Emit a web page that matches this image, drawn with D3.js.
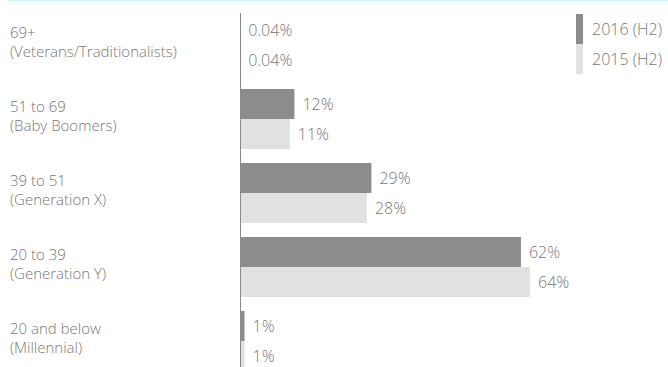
<!DOCTYPE html>
<html>
<head>
<meta charset="utf-8">
<script src="https://cdn.jsdelivr.net/npm/d3@7"></script>
<style>
  body { margin: 0; background: #fff; }
  svg { display: block; font-family: 'Open Sans', sans-serif; }
  text { fill: #777; font-size: 16px; font-weight: 300; }
  text.cat { font-size: 15px; }
</style>
</head>
<body>
<svg width="668" height="367"></svg>
<script>
const ageGroups = ['69+', '51 to 69', '39 to 51', '20 to 39', '20 and below'];
const generations = ['(Veterans/Traditionalists)', '(Baby Boomers)', '(Generation X)', '(Generation Y)', '(Millennial)'];
const seriesNames = ['2016 (H2)', '2015 (H2)'];
const values2016 = [0.04, 12, 29, 62, 1];
const values2015 = [0.04, 11, 28, 64, 1];
const valueLabels2016 = ['0.04%', '12%', '29%', '62%', '1%'];
const valueLabels2015 = ['0.04%', '11%', '28%', '64%', '1%'];

const colors = { '2016 (H2)': '#8c8c8c', '2015 (H2)': '#e1e1e1' };

const svg = d3.select('svg');

// thin cyan rule at the very top
svg.append('rect').attr('x', 8).attr('y', 0).attr('width', 660).attr('height', 1.5).attr('fill', '#cdf5f9');
svg.append('rect').attr('x', 8).attr('y', 1.5).attr('width', 660).attr('height', 4).attr('fill', '#f7fdfd');

const rows = ageGroups.map((g, i) => ({
  group: g,
  gen: generations[i],
  bars: [
    { series: seriesNames[0], value: values2016[i], label: valueLabels2016[i] },
    { series: seriesNames[1], value: values2015[i], label: valueLabels2015[i] }
  ]
}));

const x = d3.scaleLinear().domain([0, 64]).range([240, 530]);
const y = d3.scaleBand().domain(ageGroups).range([15, 371]).paddingInner(14 / 74).paddingOuter(0);
const ySub = d3.scaleBand().domain(seriesNames).range([0, y.bandwidth()]);

const groups = svg.selectAll('.group')
  .data(rows)
  .enter()
  .append('g')
  .attr('class', 'group')
  .attr('transform', d => `translate(0, ${y(d.group)})`);

groups.selectAll('.bar')
  .data(d => d.bars)
  .enter()
  .append('rect')
  .attr('class', 'bar')
  .attr('x', x(0))
  .attr('y', d => ySub(d.series))
  .attr('width', d => x(d.value) - x(0))
  .attr('height', ySub.bandwidth())
  .attr('fill', d => colors[d.series]);

groups.selectAll('.val')
  .data(d => d.bars)
  .enter()
  .append('text')
  .attr('class', 'val')
  .attr('x', d => x(d.value) + 8)
  .attr('y', d => ySub(d.series) + ySub.bandwidth() / 2)
  .attr('dy', '0.36em')
  .text(d => d.label);

// category labels, two lines
groups.append('text')
  .attr('class', 'cat')
  .attr('x', 10)
  .attr('y', y.bandwidth() / 2 - 7)
  .text(d => d.group);
groups.append('text')
  .attr('class', 'cat')
  .attr('x', 10)
  .attr('y', y.bandwidth() / 2 + 12)
  .text(d => d.gen);

// axis line
svg.append('line')
  .attr('x1', x(0) + 0.5).attr('x2', x(0) + 0.5)
  .attr('y1', 13).attr('y2', 367)
  .attr('stroke', '#8a8a8a').attr('stroke-width', 1);

// legend
const legend = svg.append('g').attr('transform', 'translate(576, 14)');
const legItems = legend.selectAll('g')
  .data(seriesNames)
  .enter()
  .append('g')
  .attr('transform', (d, i) => `translate(0, ${i * 30})`);
legItems.append('rect')
  .attr('width', 7).attr('height', 30)
  .attr('fill', d => colors[d]);
legItems.append('text')
  .attr('x', 16).attr('y', 15).attr('dy', '0.36em')
  .text(d => d);
</script>
</body>
</html>
